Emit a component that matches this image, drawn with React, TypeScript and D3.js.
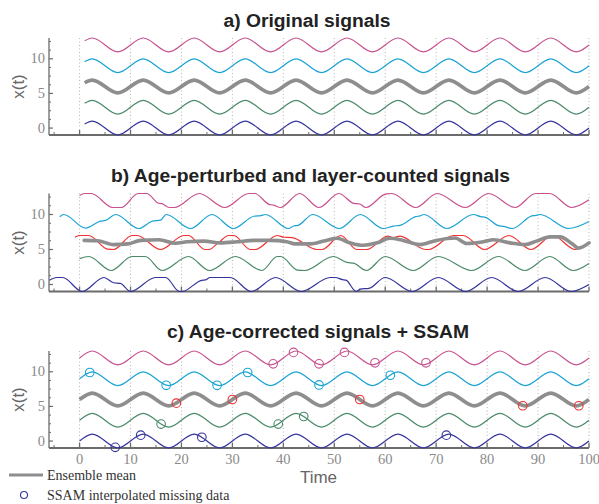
import React from "react";
import * as d3 from "d3";

const W = 599;
const H = 504;

// Extrema of the undisturbed 10-year-period signal (peaks and troughs)
const waveTimes = [2.5, 7.5, 12.5, 17.5, 22.5, 27.5, 32.5, 37.5, 42.5, 47.5, 52.5, 57.5, 62.5, 67.5, 72.5, 77.5, 82.5, 87.5, 92.5, 97.5];
const waveLevels = [1, -1, 1, -1, 1, -1, 1, -1, 1, -1, 1, -1, 1, -1, 1, -1, 1, -1, 1, -1];
const aStart: [number, number] = [1, 0.59];
const cStart: [number, number] = [0, 0];
const waveEnd: [number, number] = [100, 0];

// Stacked signals: bottom to top
const signalOffsets = [0, 3, 6, 9, 12];
const signalAmps = [1, 1, 0.92, 1, 1];
const signalColors = ["#34349e", "#4a8a68", "#8e8e8e", "#1ba3d3", "#c7528e"];
const signalWidths = [1.2, 1.2, 3.6, 1.2, 1.2];

// Age-perturbed, layer-counted signals [time, value]
const blueB: [number, number][] = [
  [-5.9, 0.6], [-4.5, 1], [-3.3, 1], [0.5, -1], [4.8, 1], [6.7, 0.25], [8, 0.15], [10, -1],
  [14.9, 1], [16.9, 1], [19.6, -1], [20.1, -1], [24, 0.6], [24.7, 0.65], [25.6, 1], [29.6, 1],
  [33.7, -1], [38.5, 1], [43.5, -1], [49.2, 1], [50.2, 1], [51.6, 0.7], [52.3, 0.62], [54.3, -1],
  [55.1, -0.65], [56.8, -0.55], [60, 1], [65.3, -1], [70.4, 1], [75.8, -1], [80.9, 1], [86.1, -1],
  [91.4, 1], [96.5, -1], [100, 0],
];
const greenB: [number, number][] = [
  [0, 3.7], [1.8, 4], [6.2, 2], [10.3, 4], [12.9, 4], [16.2, 2], [21.4, 4], [25.5, 2], [30.6, 4],
  [35.8, 2], [38.8, 4], [39.5, 4], [42.8, 2.05], [44.2, 2], [49.8, 4], [52.5, 3.15], [53.8, 3.05],
  [56.3, 2], [60, 4], [65.5, 2], [70.4, 4], [77, 2], [82.2, 4], [87.4, 2], [92.3, 4], [96.9, 2], [100, 3],
];
const redB: [number, number][] = [
  [-0.9, 6.75], [-0.1, 7], [1.8, 7], [5.5, 5.05], [6.7, 5], [10.3, 7], [11.3, 7], [15.9, 5],
  [20.5, 7], [21.4, 7], [24.6, 5], [25.4, 5], [27.3, 6], [29.3, 7], [30.3, 7], [33.5, 5], [34.5, 5],
  [38.8, 7], [40.1, 6.75], [41.7, 6.7], [46.6, 5], [47.6, 5], [51.3, 7], [54.4, 5], [56.4, 5],
  [60.5, 6.9], [61.5, 6.7], [62.9, 6.9], [67.9, 5], [68.5, 5], [73.4, 7], [75.3, 7], [79.5, 5],
  [84.3, 7], [88.6, 5], [92.9, 7], [97.3, 5], [98, 5.15],
];
const meanB: [number, number][] = [
  [0.9, 6.3], [3.5, 6.25], [6.7, 5.7], [9.5, 5.8], [12, 6.3], [15.6, 6.4], [18.8, 5.9], [21.1, 6.1],
  [24.4, 6.2], [27.6, 5.95], [30.9, 6.1], [34.2, 6.3], [37.4, 6.3], [40.7, 6.1], [42.3, 5.8],
  [45.3, 5.8], [47.9, 6.2], [50.5, 6.6], [53.1, 5.95], [55.7, 5.6], [58.4, 5.95], [60.9, 6.6],
  [63.5, 6.3], [66.8, 5.7], [70, 6.3], [73.7, 6.65], [76, 5.85], [79.3, 6.1], [81.3, 6.4],
  [84.5, 5.95], [87.4, 5.7], [89.7, 6.2], [92.3, 6.8], [94.3, 6.8], [96.9, 5.7], [97.9, 5.2], [100, 5.95],
];
const cyanB: [number, number][] = [
  [-3.9, 9.67], [-3.1, 10], [1.2, 8.05], [4.1, 9.05], [5.1, 9.15], [7.1, 10], [11.6, 8], [14.3, 9.05],
  [15.9, 9.2], [17, 10], [21.8, 8], [26, 10], [30.2, 8], [34.2, 9.75], [35.6, 9.85], [36.5, 10],
  [41, 8], [42, 8.35], [42.9, 8.45], [45.8, 10], [51, 8], [55.1, 10], [59.6, 8], [61.6, 8.35],
  [62.9, 8.45], [66, 9.7], [66.8, 9.8], [67.6, 10], [72.1, 8], [77.3, 10], [78.7, 9.7], [79.7, 9.6],
  [82.2, 8.4], [83.2, 8.3], [85, 8], [88.8, 9.8], [89.4, 9.85], [90.4, 10], [96, 8], [100, 9],
];
const magentaB: [number, number][] = [
  [0, 12.7], [1, 13], [2.3, 13], [6.5, 11], [8.2, 11], [11.5, 13], [13.2, 13], [15.4, 11.65],
  [16.2, 11.55], [17.6, 11], [18.6, 11], [23.5, 13], [28.5, 11], [33.2, 13], [34.4, 13], [37.2, 11.45],
  [38.1, 11.35], [39.4, 11], [43.2, 13], [47, 11], [50.9, 13], [53.8, 11.6], [55, 11.5], [56.2, 11],
  [59.7, 12.8], [60.3, 12.95], [61.3, 13], [66, 11], [70.2, 13], [75.7, 11], [80.3, 13], [85.5, 11],
  [89.5, 13], [92.3, 13], [96.6, 11], [100, 12.1],
];

// SSAM-filled gaps in the age-corrected signals [time, value]
const gapsBlue: [number, number][] = [[7, -0.9], [12, 0.85], [24, 0.55], [72, 0.85]];
const gapsGreen: [number, number][] = [[16, 2.45], [39, 2.45], [44, 3.55]];
const gapsMean: [number, number][] = [[19, 5.47], [30, 6], [55, 6], [87, 5.1], [98, 5.1]];
const gapsCyan: [number, number][] = [[2, 9.9], [17, 8.05], [27, 8.05], [33, 9.9], [47, 8.1], [61, 9.5]];
const gapsMagenta: [number, number][] = [[38, 11.15], [42, 12.8], [47, 11.15], [52, 12.8], [58, 11.3], [68, 11.3]];

const titles = ["a) Original signals", "b) Age-perturbed and layer-counted signals", "c) Age-corrected signals + SSAM"];
const yMajorTicks = [0, 5, 10];
const yMinorTicks = [1.25, 2.5, 3.75, 6.25, 7.5, 8.75, 11.25, 12.5];
const xMajorTicks = [0, 10, 20, 30, 40, 50, 60, 70, 80, 90, 100];
const xMinorTicks = [-5, 5, 15, 25, 35, 45, 55, 65, 75, 85, 95];

const panels = [
  { top: 38, bottom: 135, titleY: 26.5, titleX: 307, titleW: 167 },
  { top: 193.5, bottom: 291.5, titleY: 182, titleX: 310.5, titleW: 399 },
  { top: 351, bottom: 448, titleY: 338, titleX: 318, titleW: 302 },
];

const AXIS = "#6b6b6b";
const TICKTXT = "#8a8a8a";
const RED = "#f03232";
const SERIF = "'Liberation Serif', 'Times New Roman', Times, serif";
const SANS = "'Liberation Sans', Arial, Helvetica, sans-serif";

const x = d3.scaleLinear().domain([-6, 100]).range([49, 589]);

function wave(start: [number, number], i: number): [number, number][] {
  const off = signalOffsets[i];
  const amp = signalAmps[i];
  return [
    [start[0], off + amp * start[1]],
    ...waveTimes.map((t, k) => [t, off + amp * waveLevels[k]] as [number, number]),
    [waveEnd[0], off + amp * waveEnd[1]],
  ];
}

function Axes({ top, bottom, showLabels }: { top: number; bottom: number; showLabels: boolean }) {
  const y = d3.scaleLinear().domain([-1, 13]).range([bottom, top]);
  const x0 = x.range()[0];
  const x1 = x.range()[1];
  return (
    <g>
      {xMajorTicks.map((t) => (
        <line key={"g" + t} x1={x(t)} x2={x(t)} y1={top} y2={bottom} stroke="#b5b5b5" strokeWidth={1} strokeDasharray="1,2.5" />
      ))}
      <line x1={x0} x2={x0} y1={top} y2={bottom} stroke={AXIS} strokeWidth={1.3} />
      <line x1={x0} x2={x1} y1={bottom} y2={bottom} stroke={AXIS} strokeWidth={1.8} />
      {xMajorTicks.map((t) => (
        <line key={"M" + t} x1={x(t)} x2={x(t)} y1={bottom} y2={bottom - 5} stroke={AXIS} strokeWidth={1.3} />
      ))}
      {xMinorTicks.map((t) => (
        <line key={"m" + t} x1={x(t)} x2={x(t)} y1={bottom} y2={bottom - 3} stroke={AXIS} strokeWidth={1} />
      ))}
      {yMajorTicks.map((v) => (
        <line key={"yM" + v} x1={x0} x2={x0 + 4} y1={y(v)} y2={y(v)} stroke={AXIS} strokeWidth={1.2} />
      ))}
      {yMinorTicks.map((v) => (
        <line key={"ym" + v} x1={x0} x2={x0 + 2} y1={y(v)} y2={y(v)} stroke={AXIS} strokeWidth={1} />
      ))}
      {yMajorTicks.map((v) => (
        <text key={"yl" + v} x={45} y={y(v) + 4.5} textAnchor="end" fontFamily={SERIF} fontSize={14.5} fill={TICKTXT}>
          {v}
        </text>
      ))}
      <text
        transform={`translate(24,${(top + bottom) / 2}) rotate(-90)`}
        textAnchor="middle"
        fontFamily={SANS}
        fontSize={17}
        fill="#666"
      >
        x(t)
      </text>
      {showLabels &&
        xMajorTicks.map((t) => (
          <text key={"xl" + t} x={x(t)} y={464} textAnchor="middle" fontFamily={SERIF} fontSize={14.5} fill={TICKTXT}>
            {t}
          </text>
        ))}
    </g>
  );
}

export default function App() {
  const ys = panels.map((p) => d3.scaleLinear().domain([-1, 13]).range([p.bottom, p.top]));
  const lineFor = (y: d3.ScaleLinear<number, number>) =>
    d3
      .line<[number, number]>()
      .x((d) => x(d[0]))
      .y((d) => y(d[1]))
      .curve(d3.curveMonotoneX);

  const la = lineFor(ys[0]);
  const lb = lineFor(ys[1]);
  const lc = lineFor(ys[2]);

  const seriesB = [blueB, greenB, meanB, cyanB, magentaB];
  const gapsC = [gapsBlue, gapsGreen, gapsMean, gapsCyan, gapsMagenta];

  return (
    <svg width={W} height={H} style={{ display: "block", position: "absolute", left: 0, top: 0, background: "#fff" }}>
      {panels.map((p, i) => (
        <g key={"p" + i}>
          <text
            x={p.titleX - p.titleW / 2}
            y={p.titleY}
            textLength={p.titleW}
            lengthAdjust="spacingAndGlyphs"
            fontFamily={SANS}
            fontWeight="bold"
            fontSize={18}
            fill="#222"
          >
            {titles[i]}
          </text>
          <Axes top={p.top} bottom={p.bottom} showLabels={i === 2} />
        </g>
      ))}

      {/* a) original signals */}
      {signalOffsets.map((_, i) => (
        <path key={"a" + i} d={la(wave(aStart, i)) || ""} fill="none" stroke={signalColors[i]} strokeWidth={signalWidths[i]} strokeLinejoin="round" />
      ))}

      {/* b) perturbed signals, stack and smoothed ensemble mean */}
      {[0, 1, 3, 4].map((i) => (
        <path key={"b" + i} d={lb(seriesB[i]) || ""} fill="none" stroke={signalColors[i]} strokeWidth={1.2} strokeLinejoin="round" />
      ))}
      <path d={lb(redB) || ""} fill="none" stroke={RED} strokeWidth={1.2} strokeLinejoin="round" />
      <path d={lb(meanB) || ""} fill="none" stroke={signalColors[2]} strokeWidth={3.6} strokeLinejoin="round" strokeLinecap="round" />

      {/* c) age-corrected signals with interpolated gaps */}
      {signalOffsets.map((_, i) => (
        <path key={"c" + i} d={lc(wave(cStart, i)) || ""} fill="none" stroke={signalColors[i]} strokeWidth={signalWidths[i]} strokeLinejoin="round" />
      ))}
      {gapsC.map((g, i) =>
        g.map((d, k) => (
          <circle
            key={"o" + i + "-" + k}
            cx={x(d[0])}
            cy={ys[2](d[1])}
            r={4.3}
            fill="none"
            stroke={i === 2 ? RED : signalColors[i]}
            strokeWidth={1.1}
          />
        ))
      )}

      <text x={318.5} y={483} textAnchor="middle" fontFamily={SANS} fontSize={17} fill="#666">
        Time
      </text>

      {/* legend */}
      <line x1={9} x2={43} y1={475} y2={475} stroke={signalColors[2]} strokeWidth={3} />
      <text x={47} y={479.5} fontFamily={SERIF} fontSize={14} fill="#333">
        Ensemble mean
      </text>
      <circle cx={24} cy={495} r={3.5} fill="none" stroke={signalColors[0]} strokeWidth={1.1} />
      <text x={47} y={499.5} fontFamily={SERIF} fontSize={14} fill="#333">
        SSAM interpolated missing data
      </text>
    </svg>
  );
}
